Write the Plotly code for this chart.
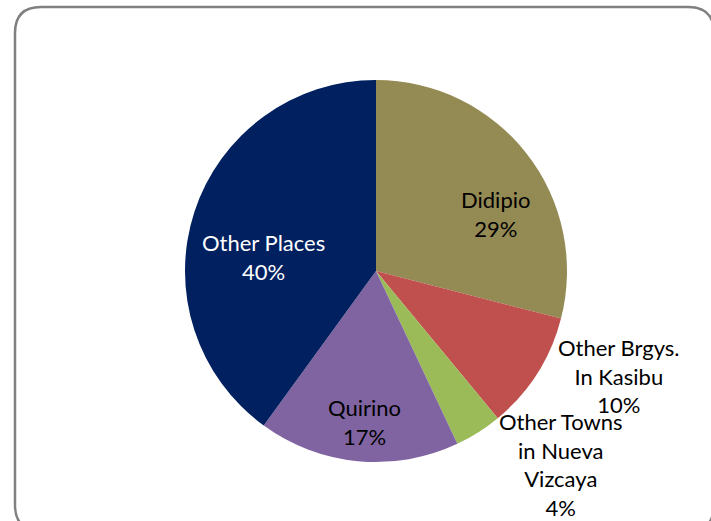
import plotly.graph_objects as go

# ---- data ----
categories = ["Didipio", "Other Brgys.<br>In Kasibu", "Other Towns<br>in Nueva<br>Vizcaya", "Quirino", "Other Places"]
values = [29, 10, 4, 17, 40]
colors = ["#948A54", "#C0504D", "#9BBB59", "#8064A2", "#002060"]
text_colors = ["#000000", "#000000", "#000000", "#000000", "#FFFFFF"]

# ---- layout (pixel geometry of the 711x521 canvas) ----
W, H = 711, 521
cx, cy, r = 376, 271, 191
label_px = [(495, 214), (619, 376), (561, 464), (364, 422), (263, 257)]
FONT = "Lato, Calibri, sans-serif"
FS = 22

fig = go.Figure()
fig.add_trace(go.Pie(
    labels=categories,
    values=values,
    sort=False,
    direction="clockwise",
    rotation=0,
    marker=dict(colors=colors, line=dict(width=0)),
    textinfo="none",
    hoverinfo="label+percent",
    showlegend=False,
    domain=dict(x=[(cx - r) / W, (cx + r) / W], y=[(H - cy - r) / H, (H - cy + r) / H]),
))

total = sum(values)
annotations = []
for lab, v, (px, py), tc in zip(categories, values, label_px, text_colors):
    annotations.append(dict(
        x=px / W, y=1 - py / H, xref="paper", yref="paper",
        text=f"{lab}<br>{round(100 * v / total)}%",
        showarrow=False, xanchor="center", yanchor="middle", align="center",
        font=dict(family=FONT, size=FS, color=tc),
    ))

# rounded chart border
x0, y0, x1, y1, rr = 15, 7, 714, 531, 26
def P(x, y):
    return f"{x / W:.5f},{1 - y / H:.5f}"
path = (f"M {P(x0 + rr, y0)} L {P(x1 - rr, y0)} Q {P(x1, y0)} {P(x1, y0 + rr)} "
        f"L {P(x1, y1 - rr)} Q {P(x1, y1)} {P(x1 - rr, y1)} "
        f"L {P(x0 + rr, y1)} Q {P(x0, y1)} {P(x0, y1 - rr)} "
        f"L {P(x0, y0 + rr)} Q {P(x0, y0)} {P(x0 + rr, y0)} Z")

fig.update_layout(
    width=W, height=H,
    margin=dict(l=0, r=0, t=0, b=0),
    paper_bgcolor="white", plot_bgcolor="white",
    annotations=annotations,
    shapes=[dict(type="path", path=path, xref="paper", yref="paper",
                 line=dict(color="#808080", width=2.5), layer="below")],
)

fig.write_html(
    "out.html",
    config={"displayModeBar": False},
    post_script="document.body.style.margin='0px';document.body.style.overflow='hidden';",
)
